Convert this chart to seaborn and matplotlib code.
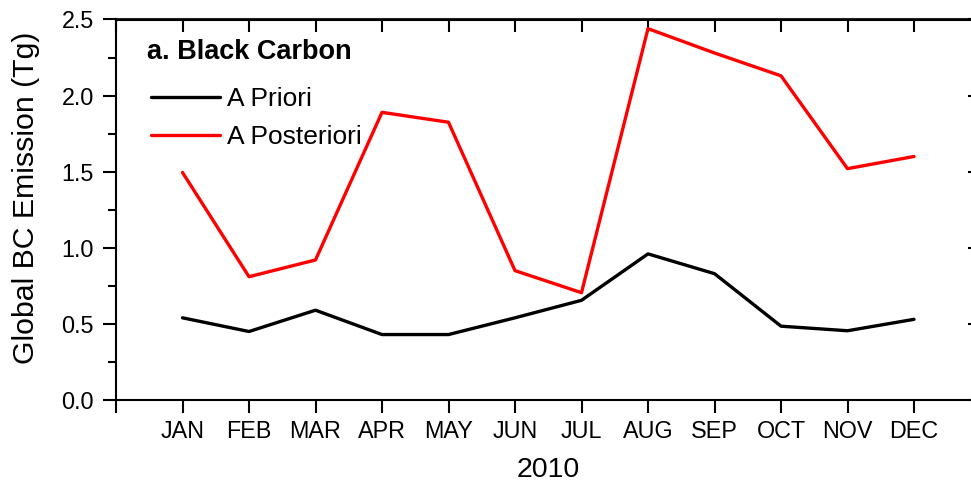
import matplotlib
matplotlib.use("Agg")
import matplotlib.pyplot as plt
import seaborn as sns
import pandas as pd
import numpy as np
from matplotlib.ticker import MultipleLocator
from matplotlib.lines import Line2D

months = ["JAN", "FEB", "MAR", "APR", "MAY", "JUN", "JUL", "AUG", "SEP", "OCT", "NOV", "DEC"]
a_priori = [0.54, 0.45, 0.59, 0.43, 0.43, 0.54, 0.655, 0.96, 0.83, 0.485, 0.455, 0.53]
a_posteriori = [1.495, 0.81, 0.92, 1.89, 1.825, 0.85, 0.705, 2.44, 2.28, 2.13, 1.52, 1.60]
series_names = ["A Priori", "A Posteriori"]
colors = ["black", "red"]
yticks = [0.0, 0.5, 1.0, 1.5, 2.0, 2.5]

pos = list(range(1, len(months) + 1))
df = pd.DataFrame({
    "pos": pos * 2,
    "value": a_priori + a_posteriori,
    "series": [series_names[0]] * len(months) + [series_names[1]] * len(months),
})

sns.set_theme(style="white")
plt.rcParams["font.family"] = ["Liberation Sans", "DejaVu Sans"]
plt.rcParams["text.color"] = "black"

W, H = 971, 487
fig = plt.figure(figsize=(W / 100, H / 100), dpi=100)
left, right, top, bottom = 116, 980.5, 19.5, 400
ax = fig.add_axes([left / W, 1 - bottom / H, (right - left) / W, (bottom - top) / H])

sns.lineplot(data=df, x="pos", y="value", hue="series", palette=colors,
             linewidth=2.4, ax=ax, legend=False, sort=False)

ax.set_xlim(0, 13)
ax.set_ylim(0, 2.5)
ax.set_xticks(range(0, 14))
ax.set_xticklabels([""] + months + [""], fontsize=16.8)
ax.set_yticks(yticks)
ax.set_yticklabels([f"{v:.1f}" for v in yticks], fontsize=16.8)
ax.yaxis.set_minor_locator(MultipleLocator(0.25))

for s in ax.spines.values():
    s.set_visible(True)
    s.set_color("black")
    s.set_linewidth(1.5)

ax.tick_params(axis="x", which="major", direction="out", length=9.4, width=1.5,
               color="black", bottom=True, top=False, pad=5, labelcolor="black")
ax.tick_params(axis="y", which="major", direction="out", length=9.4, width=1.5,
               color="black", left=True, right=False, pad=6.5, labelcolor="black")
ax.tick_params(axis="y", which="minor", direction="out", length=5.8, width=1.5,
               color="black", left=True, right=False)

# inward ticks on top and right
ax_top = ax.secondary_xaxis("top")
ax_top.set_xticks(range(0, 14))
ax_top.tick_params(direction="in", length=9.4, width=1.5, color="black", labeltop=False)
ax_top.set_xticklabels([])
ax_top.spines["top"].set_linewidth(1.5)
ax_right = ax.secondary_yaxis("right")
ax_right.set_yticks(yticks)
ax_right.yaxis.set_minor_locator(MultipleLocator(0.25))
ax_right.tick_params(which="major", direction="in", length=9.4, width=1.5, color="black", labelright=False)
ax_right.tick_params(which="minor", direction="in", length=5.8, width=1.5, color="black", labelright=False)
ax_right.spines["right"].set_linewidth(1.5)

ax.set_xlabel("2010", fontsize=20.5, labelpad=10, color="black")
ax.set_ylabel("Global BC Emission (Tg)", fontsize=21.8, color="black")
ax.yaxis.set_label_coords(-0.088, 0.532)

ax.text(0.0355, 0.8954, "a. Black Carbon", transform=ax.transAxes, fontsize=19.5,
        fontweight="bold", va="baseline", ha="left", color="black")

handles = [Line2D([0], [0], color=c, linewidth=2.4) for c in colors]
leg = ax.legend(handles, series_names, loc="upper left", bbox_to_anchor=(0.041, 0.823),
                frameon=False, fontsize=19, handlelength=2.58, handletextpad=0.29,
                labelspacing=0.54, borderpad=0, borderaxespad=0)
for t in leg.get_texts():
    t.set_color("black")

fig.savefig("out.png", dpi=100)
